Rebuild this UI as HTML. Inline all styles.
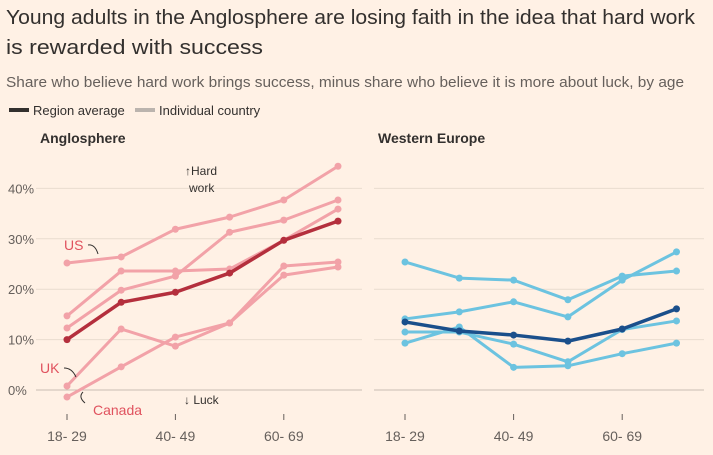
<!DOCTYPE html>
<html><head><meta charset="utf-8"><style>
body{margin:0;background:#fff1e5;font-family:"Liberation Sans",sans-serif;color:#33302e;width:713px;height:455px;overflow:hidden}
svg{position:absolute;left:0;top:0}
</style></head><body>
<svg width="713" height="455" id="c">
<text x="6" y="24" font-size="20.5" fill="#33302e" textLength="689" lengthAdjust="spacingAndGlyphs">Young adults in the Anglosphere are losing faith in the idea that hard work</text>
<text x="6" y="54" font-size="20.5" fill="#33302e" textLength="257" lengthAdjust="spacingAndGlyphs">is rewarded with success</text>
<text x="6" y="87" font-size="15" fill="#66605c" textLength="678" lengthAdjust="spacingAndGlyphs">Share who believe hard work brings success, minus share who believe it is more about luck, by age</text>
<g>
<rect x="9" y="108" width="20" height="4" fill="#33302e"/>
<text x="33" y="115" font-size="13" fill="#33302e">Region average</text>
<rect x="135" y="108" width="20" height="4" fill="#bbb4ae"/>
<text x="159" y="115" font-size="13" fill="#33302e">Individual country</text>
</g>
<text x="40" y="143" font-size="14" font-weight="bold" fill="#33302e">Anglosphere</text>
<text x="378" y="143" font-size="14" font-weight="bold" fill="#33302e">Western Europe</text>
<g id="g"></g>
</svg>
<script>
const ageLabels=["18- 29","40- 49","60- 69"];
const yTicks=[0,10,20,30,40];
const angloAvg=[10.0,17.4,19.4,23.2,29.7,33.5];
const angloUS=[25.2,26.4,31.9,34.3,37.7,44.4];
const angloA=[14.7,23.6,23.6,24.0,29.7,35.9];
const angloB=[12.3,19.8,22.6,31.3,33.7,37.7];
const angloUK=[0.8,12.1,8.7,13.3,24.6,25.4];
const angloCanada=[-1.4,4.6,10.5,13.3,22.8,24.4];
const euroAvg=[13.5,11.7,10.9,9.7,12.1,16.1];
const euroA=[25.4,22.2,21.8,17.9,22.6,23.6];
const euroB=[14.1,15.5,17.5,14.5,21.8,27.4];
const euroC=[11.5,11.5,9.1,5.6,12.0,13.7];
const euroD=[9.3,12.5,4.5,4.8,7.2,9.3];
const NS="http://www.w3.org/2000/svg";
const g=document.getElementById('g');
function y(v){return 390-v*5.04;}
function xL(i){return 67+i*54.2;}
function xR(i){return 405+i*54.3;}
function mk(t,a,p){const e=document.createElementNS(NS,t);for(const k in a)e.setAttribute(k,a[k]);(p||g).appendChild(e);return e;}
yTicks.forEach(v=>{
 const l1=mk('line',{x1:36,x2:362,y1:y(v),y2:y(v),stroke:v===0?'#c9bdb2':'#e9dccf','stroke-width':1});
 
 
 const l2=mk('line',{x1:374,x2:704,y1:y(v),y2:y(v),stroke:v===0?'#c9bdb2':'#e9dccf','stroke-width':1});
 
 
 const t=mk('text',{x:8,y:y(v)+5,'font-size':13,fill:'#66605c'});t.textContent=v+'%';
 
 
});
ageLabels.forEach((s,k)=>{
 [xL,xR].forEach(f=>{
  const x=f(k*2);
  const tk=mk('line',{x1:x,x2:x,y1:414,y2:420,stroke:'#66605c'});
  
  
  const t=mk('text',{x:x,y:441,'font-size':14,fill:'#66605c','text-anchor':'middle'});t.textContent=s;
  
  
 });
});
function series(vals,fx,col,w,name){
 const pts=vals.map((v,i)=>fx(i)+','+y(v)).join(' ');
 const p=mk('polyline',{points:pts,fill:'none',stroke:col,'stroke-width':w,'stroke-linejoin':'round'});
 
 
 vals.forEach((v,i)=>{const c=mk('circle',{cx:fx(i),cy:y(v),r:3.5,fill:col});
  
  });
}
const pk='#f2a2a8',dr='#b42f3d',lb='#6cc3e0',db='#1a4f8b';
series(angloUS,xL,pk,3,'line-us');
series(angloA,xL,pk,3,'line-anglo-country-a');
series(angloB,xL,pk,3,'line-anglo-country-b');
series(angloUK,xL,pk,3,'line-uk');
series(angloCanada,xL,pk,3,'line-canada');
series(angloAvg,xL,dr,3.5,'line-anglosphere-average');
series(euroA,xR,lb,3,'line-euro-country-a');
series(euroB,xR,lb,3,'line-euro-country-b');
series(euroC,xR,lb,3,'line-euro-country-c');
series(euroD,xR,lb,3,'line-euro-country-d');
series(euroAvg,xR,db,3.5,'line-western-europe-average');
function txt(x,yy,s,col,name,size){const t=mk('text',{x:x,y:yy,'font-size':size||14,fill:col});t.textContent=s;
 }
txt(64,250,'US','#e0525e','label-us');
txt(40,373,'UK','#e0525e','label-uk');
txt(93,415,'Canada','#e0525e','label-canada');
txt(185,175,'↑Hard','#33302e','annotation-hard',12);
txt(189,192,'work','#33302e','annotation-work',12);
txt(184,404,'↓ Luck','#33302e','annotation-luck',12);
[['M88,245 Q95,244 98,254','arrow-us'],['M64,368 Q72,368 76,377','arrow-uk'],['M85,403 Q78,397 83,392','arrow-canada']].forEach(a=>{
 const p=mk('path',{d:a[0],fill:'none',stroke:'#33302e','stroke-width':1});
 });
</script>
</body></html>
